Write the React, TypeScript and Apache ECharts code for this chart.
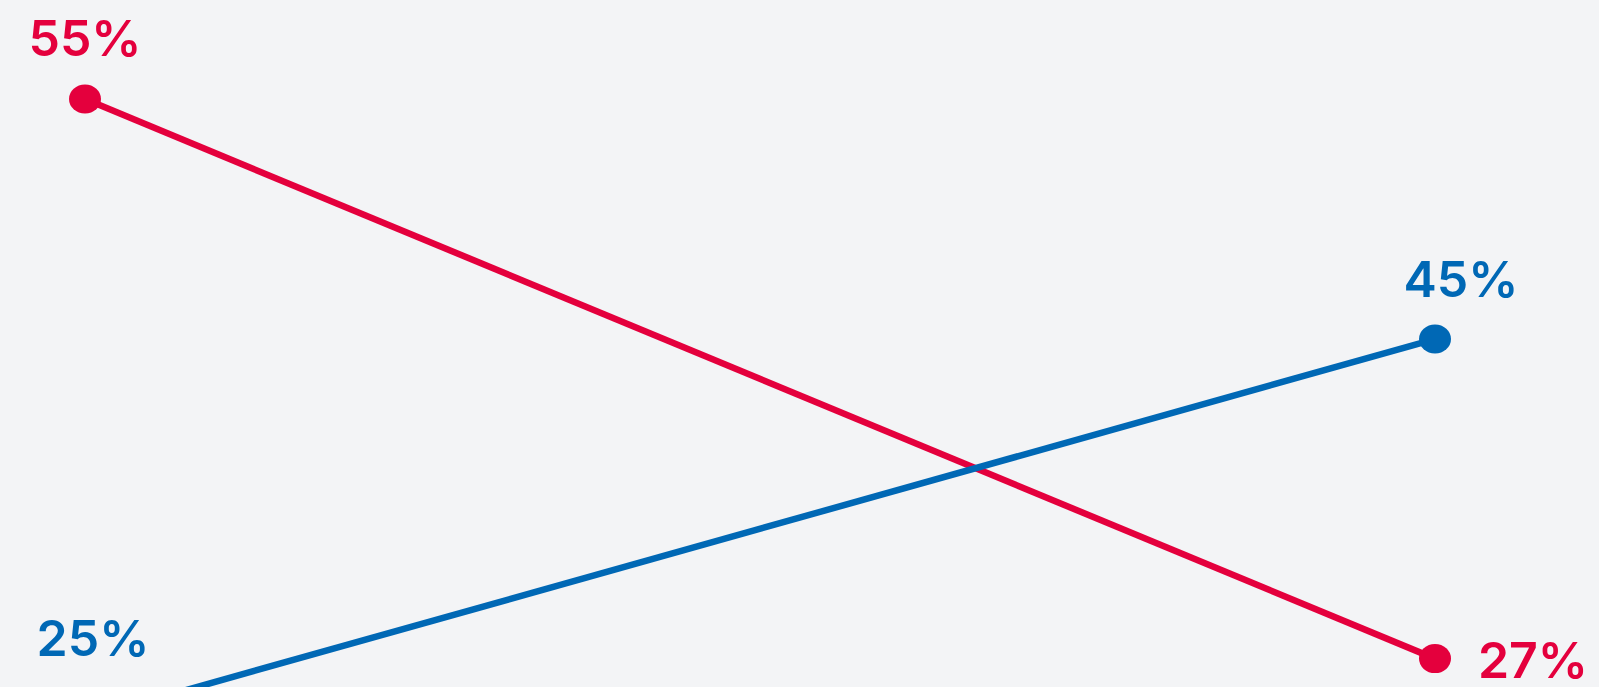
import React, { useEffect, useRef } from "react";
import * as echarts from "echarts";

const categories = ["Start", "End"];
const redValues = [55, 27];
const blueValues = [25, 45];

const RED = "#E4003D";
const BLUE = "#0068B5";
const BG = "#F3F4F6";

const ELLIPSE = "path://M0,50 A50,50 0 1,1 100,50 A50,50 0 1,1 0,50 Z";

export default function App() {
  const ref = useRef<HTMLDivElement>(null);

  useEffect(() => {
    if (!ref.current) return;
    const chart = echarts.init(ref.current, undefined, { renderer: "svg" });

    const redOffsets = [[0, -61], [98, 1]];
    const blueOffsets = [[8, -80], [26, -60]];

    const labelBase = {
      show: true,
      position: "inside",
      formatter: "{c}%",
      fontFamily: "Inter, sans-serif",
      fontSize: 50,
      lineHeight: 40,
      fontWeight: 600,
    };

    chart.setOption({
      animation: false,
      backgroundColor: BG,
      grid: { left: 85, right: 164, top: 0, bottom: 0, containLabel: false },
      xAxis: {
        type: "category",
        data: categories,
        boundaryGap: false,
        show: false,
      },
      yAxis: [
        { type: "value", min: 25.58, max: 59.96, show: false, splitLine: { show: false } },
        { type: "value", min: 26.66, max: 62.87, show: false, splitLine: { show: false } },
      ],
      series: [
        {
          name: "Red",
          type: "line",
          yAxisIndex: 0,
          clip: false,
          symbol: ELLIPSE,
          symbolSize: [32, 29],
          lineStyle: { color: RED, width: 6.5 },
          itemStyle: { color: RED },
          label: { ...labelBase, color: RED },
          data: redValues.map((v, i) => ({
            value: v,
            label: { offset: redOffsets[i] },
          })),
        },
        {
          name: "Blue",
          type: "line",
          yAxisIndex: 1,
          clip: false,
          symbol: ELLIPSE,
          symbolSize: [32, 29],
          lineStyle: { color: BLUE, width: 6.5 },
          itemStyle: { color: BLUE },
          label: { ...labelBase, color: BLUE },
          data: blueValues.map((v, i) => ({
            value: v,
            label: { offset: blueOffsets[i] },
          })),
        },
      ],
    });

    return () => chart.dispose();
  }, []);

  return (
    <div
      ref={ref}
      style={{
        position: "fixed",
        left: 0,
        top: 0,
        width: 1599,
        height: 687,
        background: BG,
        overflow: "hidden",
      }}
    />
  );
}
